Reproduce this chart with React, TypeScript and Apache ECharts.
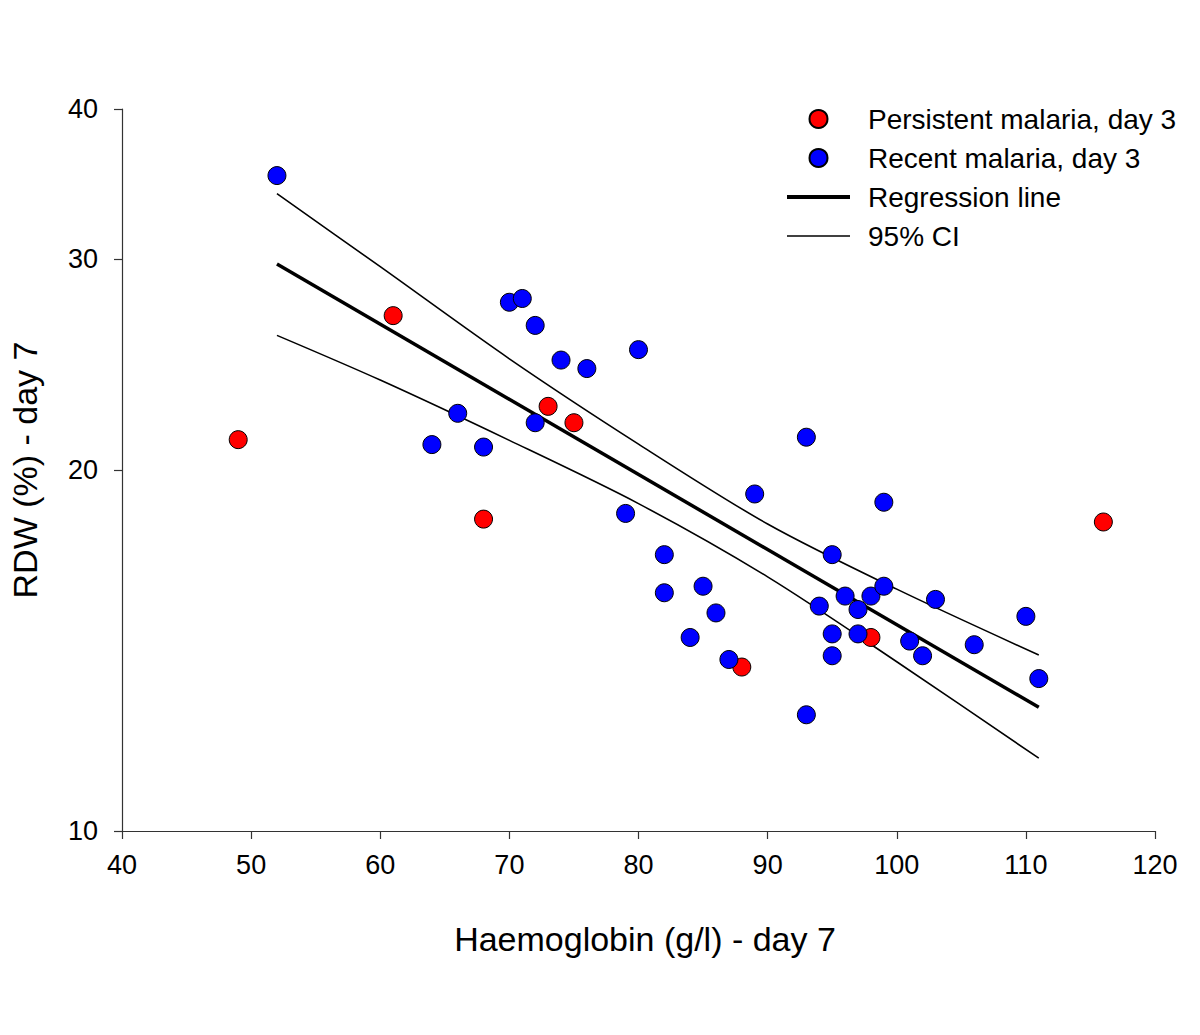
import React, { useEffect, useRef } from "react";
import * as echarts from "echarts";

const FONT = "'Liberation Sans', Arial, Helvetica, sans-serif";

// Persistent malaria, day 3 (red)
const persistentX = [49, 61, 68, 73, 75, 88, 98, 116];
const persistentY = [21.2, 26.9, 18.2, 22.6, 21.9, 13.7, 14.5, 18.1];

// Recent malaria, day 3 (blue)
const recentX = [52, 70, 71, 72, 74, 76, 80, 66, 64, 68, 72, 79, 82, 82, 85, 86, 84, 87, 89, 93, 93, 95, 94, 95, 95, 96, 97, 97, 98, 99, 99, 101, 102, 103, 106, 110, 111];
const recentY = [35.2, 27.6, 27.8, 26.4, 24.7, 24.3, 25.2, 22.3, 21.0, 20.9, 21.9, 18.4, 17.0, 15.8, 16.0, 15.2, 14.5, 13.9, 19.1, 21.3, 12.5, 17.0, 15.4, 14.6, 14.0, 15.7, 15.3, 14.6, 15.7, 16.0, 18.8, 14.4, 14.0, 15.6, 14.3, 15.1, 13.4];

// Regression line
const regX = [52, 111];
const regY = [29.7, 12.68];

// 95% CI curves
const ciX = [52, 60, 70, 80, 90, 100, 111];
const ciUpperY = [34.0, 29.55, 24.76, 21.02, 18.03, 15.91, 14.02];
const ciLowerY = [25.9, 23.77, 21.17, 18.75, 16.29, 13.84, 11.5];

const xTicks = [40, 50, 60, 70, 80, 90, 100, 110, 120];
const yTicks = [10, 20, 30, 40];

const zip = (xs: number[], ys: number[]) => xs.map((x, i) => [x, ys[i]]);

export default function App() {
  const ref = useRef<HTMLDivElement>(null);
  useEffect(() => {
    if (!ref.current) return;
    const chart = echarts.init(ref.current, null, { renderer: "svg" });
    const axisLine = { show: true, lineStyle: { color: "#333", width: 1.2 } };
    chart.setOption({
      animation: false,
      backgroundColor: "#fff",
      textStyle: { fontFamily: FONT },
      grid: { left: 122, right: 45, top: 109, bottom: 204, outerBoundsMode: "none" },
      legend: {
        orient: "vertical",
        left: 782,
        top: 100,
        itemWidth: 63,
        itemHeight: 18,
        itemGap: 11,
        padding: 5,
        textStyle: { fontFamily: FONT, fontSize: 28, color: "#000", padding: [0, 0, 0, 13] },
        data: [
          { name: "Persistent malaria, day 3", icon: "circle" },
          { name: "Recent malaria, day 3", icon: "circle" },
          { name: "Regression line", icon: "path://M0,0L63,0L63,4L0,4Z", itemStyle: { color: "#000" } },
          { name: "95% CI", icon: "path://M0,0L63,0L63,1.6L0,1.6Z", itemStyle: { color: "#000" } },
        ],
      },
      xAxis: {
        type: "value",
        min: 40,
        max: 120,
        interval: 10,
        name: "Haemoglobin (g/l) - day 7",
        nameLocation: "middle",
        nameGap: 91,
        nameTextStyle: { fontFamily: FONT, fontSize: 34, color: "#000", padding: [0, 0, 0, 13] },
        axisLine,
        axisTick: { show: true, inside: false, length: 8, lineStyle: { color: "#333", width: 1.2 }, customValues: xTicks },
        axisLabel: { fontFamily: FONT, fontSize: 27, color: "#000", margin: 20, customValues: xTicks },
        splitLine: { show: false },
      },
      yAxis: {
        type: "log",
        logBase: 10,
        min: 10,
        max: 40,
        name: "RDW (%) - day 7",
        nameLocation: "middle",
        nameGap: 80,
        nameRotate: 90,
        nameTextStyle: { fontFamily: FONT, fontSize: 34, color: "#000" },
        axisLine,
        axisTick: { show: true, inside: false, length: 8, lineStyle: { color: "#333", width: 1.2 }, customValues: yTicks },
        axisLabel: { fontFamily: FONT, fontSize: 27, color: "#000", margin: 24, customValues: yTicks },
        splitLine: { show: false },
        minorTick: { show: false },
      },
      series: [
        {
          name: "Regression line",
          type: "line",
          data: zip(regX, regY),
          symbol: "none",
          lineStyle: { color: "#000", width: 3.5 },
          itemStyle: { color: "#000" },
          z: 2,
        },
        {
          name: "95% CI",
          type: "line",
          data: zip(ciX, ciUpperY),
          symbol: "none",
          smooth: 0.3,
          lineStyle: { color: "#000", width: 1.6 },
          itemStyle: { color: "#000" },
          z: 2,
        },
        {
          name: "95% CI",
          type: "line",
          data: zip(ciX, ciLowerY),
          symbol: "none",
          smooth: 0.3,
          lineStyle: { color: "#000", width: 1.6 },
          itemStyle: { color: "#000" },
          z: 2,
        },
        {
          name: "Persistent malaria, day 3",
          type: "scatter",
          data: zip(persistentX, persistentY),
          symbol: "circle",
          symbolSize: 18,
          itemStyle: { color: "#ff0000", borderColor: "#000", borderWidth: 1, opacity: 1 },
          z: 3,
        },
        {
          name: "Recent malaria, day 3",
          type: "scatter",
          data: zip(recentX, recentY),
          symbol: "circle",
          symbolSize: 18,
          itemStyle: { color: "#0000ff", borderColor: "#000", borderWidth: 1, opacity: 1 },
          z: 3,
        },
      ],
    });
    return () => chart.dispose();
  }, []);
  return (
    <div
      ref={ref}
      style={{ position: "fixed", left: 0, top: 0, width: 1200, height: 1035, background: "#fff" }}
    />
  );
}
